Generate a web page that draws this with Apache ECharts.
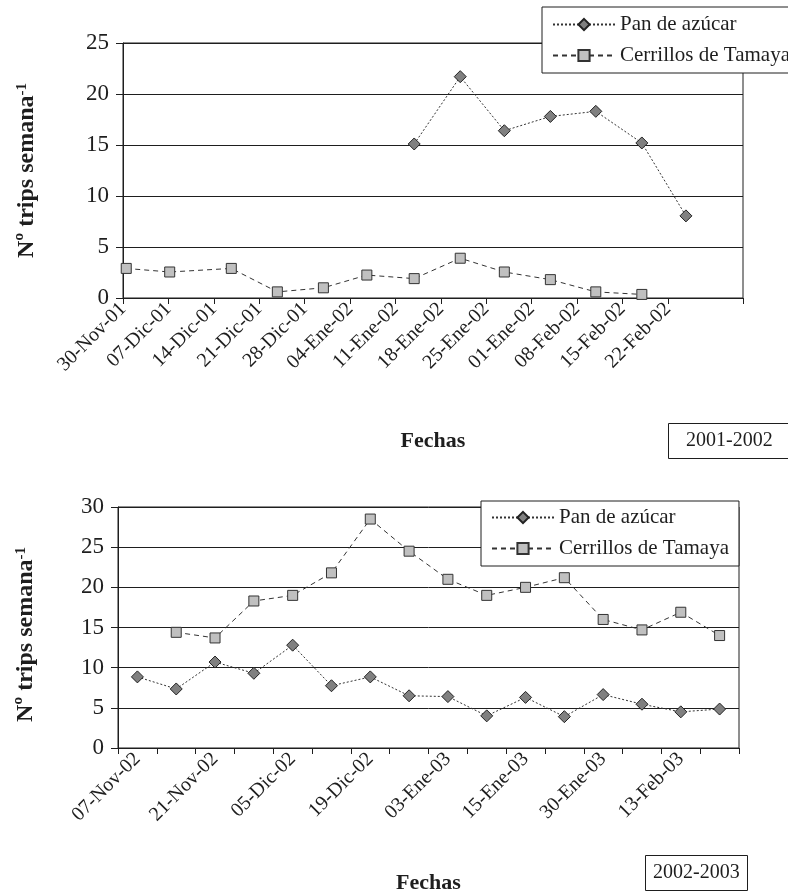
<!DOCTYPE html>
<html><head><meta charset="utf-8">
<script src="https://cdn.jsdelivr.net/npm/echarts@6/dist/echarts.min.js"></script>
<style>html,body{margin:0;padding:0;background:#fff}#c{width:788px;height:896px}</style>
</head><body><div id="c"></div>
<script>
// ---- 2001-2002 (x = days since 30-Nov-01) ----
const days0102 = [0.5, 7.2, 16.7, 23.8, 30.9, 37.6, 44.9, 52.0, 58.8, 65.9, 72.9, 80.0, 86.8];
const pan0102 = [null, null, null, null, null, null, 15.1, 21.7, 16.4, 17.8, 18.3, 15.2, 8.05];
const cer0102 = [2.9, 2.55, 2.9, 0.6, 1.0, 2.25, 1.9, 3.9, 2.55, 1.8, 0.6, 0.35, null];
const tickDays0102 = [0, 7, 14, 21, 28, 35, 42, 49, 56, 63, 70, 77, 84];
const tickLabels0102 = ['30-Nov-01','07-Dic-01','14-Dic-01','21-Dic-01','28-Dic-01','04-Ene-02','11-Ene-02','18-Ene-02','25-Ene-02','01-Ene-02','08-Feb-02','15-Feb-02','22-Feb-02'];
const axisEndDay0102 = 95.6;
const yTicks0102 = [0, 5, 10, 15, 20, 25];

// ---- 2002-2003 (category axis, every other label shown) ----
const cats0203 = ['07-Nov-02','14-Nov-02','21-Nov-02','28-Nov-02','05-Dic-02','12-Dic-02','19-Dic-02','26-Dic-02','03-Ene-03','09-Ene-03','15-Ene-03','22-Ene-03','30-Ene-03','06-Feb-03','13-Feb-03','20-Feb-03'];
const pan0203 = [8.85, 7.35, 10.7, 9.3, 12.8, 7.75, 8.85, 6.5, 6.4, 4.0, 6.3, 3.9, 6.65, 5.45, 4.5, 4.85];
const cer0203 = [null, 14.4, 13.7, 18.3, 19.0, 21.8, 28.5, 24.5, 21.0, 19.0, 20.0, 21.2, 16.0, 14.7, 16.9, 14.0];
const yTicks0203 = [0, 5, 10, 15, 20, 25, 30];

const seriesNames = ['Pan de azúcar', 'Cerrillos de Tamaya'];
const yearLabels = ['2001-2002', '2002-2003'];
const axisTitleY = 'Nº trips semana{sup|-1}';
const axisTitleX = 'Fechas';

const SERIF = 'Liberation Serif, Times New Roman, serif';
const INK = '#1e1e1e';

function pairs(xs, ys) {
  const out = [];
  xs.forEach((x, i) => { if (ys[i] !== null) out.push([x, ys[i]]); });
  return out;
}

const panStyle = {
  type: 'line', symbol: 'diamond', symbolSize: 12,
  itemStyle: { color: '#808080', borderColor: '#222', borderWidth: 1 },
  lineStyle: { color: '#333', width: 1, type: [2, 2] },
  emphasis: { disabled: true }, z: 3
};
const cerStyle = {
  type: 'line', symbol: 'rect', symbolSize: 10,
  itemStyle: { color: '#c0c0c0', borderColor: '#333', borderWidth: 1 },
  lineStyle: { color: '#333', width: 1, type: [5, 4] },
  emphasis: { disabled: true }, z: 3
};

function yAxis(gridIndex, maxV, gap, pad) {
  return {
    type: 'value', gridIndex, min: 0, max: maxV, interval: 5,
    name: axisTitleY, nameLocation: 'middle', nameGap: gap,
    nameTextStyle: {
      fontFamily: SERIF, fontSize: 24, fontWeight: 'bold', color: INK, padding: pad,
      rich: { sup: { fontFamily: SERIF, fontSize: 15, fontWeight: 'bold', color: INK, lineHeight: 15, verticalAlign: 'top' } }
    },
    axisLine: { show: true, lineStyle: { color: INK, width: 1 } },
    axisTick: { show: true, length: 7, lineStyle: { color: INK } },
    axisLabel: { fontFamily: SERIF, fontSize: 23, color: INK, margin: 14 },
    splitLine: { show: true, lineStyle: { color: INK, width: 1 } }
  };
}

const legendCommon = {
  orient: 'vertical', itemWidth: 62, itemHeight: 14, itemGap: 10,
  borderColor: INK, borderWidth: 1, backgroundColor: '#fff',
  textStyle: { fontFamily: SERIF, fontSize: 21, color: INK, lineHeight: 21 },
  selectedMode: false, data: seriesNames, z: 10
};

const chart = echarts.init(document.getElementById('c'), null, { renderer: 'canvas' });
chart.setOption({
  animation: false,
  backgroundColor: '#fff',
  title: [
    { text: yearLabels[0], left: 668, top: 423, borderColor: INK, borderWidth: 1, padding: [8, 22, 8, 18],
      textStyle: { fontFamily: SERIF, fontSize: 20, fontWeight: 'normal', color: INK } },
    { text: yearLabels[1], left: 645, top: 855, borderColor: INK, borderWidth: 1, padding: [8, 8, 8, 8],
      textStyle: { fontFamily: SERIF, fontSize: 20, fontWeight: 'normal', color: INK } }
  ],
  legend: [
    Object.assign({}, legendCommon, { left: 542, top: 7, padding: [7, 10, 7, 10] }),
    Object.assign({}, legendCommon, { left: 481, top: 501, padding: [6, 10, 7, 10] })
  ],
  grid: [
    { left: 123, top: 43, width: 620, height: 255, show: true, borderColor: INK, borderWidth: 1, backgroundColor: 'transparent' },
    { left: 118, top: 507, width: 621, height: 241, show: true, borderColor: INK, borderWidth: 1, backgroundColor: 'transparent' }
  ],
  xAxis: [
    {
      type: 'value', gridIndex: 0, min: 0, max: axisEndDay0102,
      name: axisTitleX, nameLocation: 'middle', nameGap: 132,
      nameTextStyle: { fontFamily: SERIF, fontSize: 22, fontWeight: 'bold', color: INK },
      axisLine: { show: true, onZero: false, lineStyle: { color: INK, width: 1 } },
      axisTick: { show: true, length: 6, lineStyle: { color: INK }, customValues: tickDays0102.concat([axisEndDay0102]) },
      axisLabel: { fontFamily: SERIF, fontSize: 20, color: INK, rotate: 45, margin: 8,
        customValues: tickDays0102,
        formatter: v => tickLabels0102[tickDays0102.indexOf(Math.round(v))] || '' },
      splitLine: { show: false }
    },
    {
      type: 'category', gridIndex: 1, data: cats0203, boundaryGap: true,
      name: axisTitleX, nameLocation: 'middle', nameGap: 124,
      nameTextStyle: { fontFamily: SERIF, fontSize: 22, fontWeight: 'bold', color: INK },
      axisLine: { show: true, onZero: false, lineStyle: { color: INK, width: 1 } },
      axisTick: { show: true, length: 6, interval: 0, lineStyle: { color: INK } },
      axisLabel: { fontFamily: SERIF, fontSize: 20, color: INK, rotate: 45, margin: 8, interval: 1 },
      splitLine: { show: false }
    }
  ],
  yAxis: [yAxis(0, yTicks0102[yTicks0102.length - 1], 84, [0, 0, 0, 0]), yAxis(1, yTicks0203[yTicks0203.length - 1], 80, [0, 14, 0, 0])],
  series: [
    Object.assign({}, panStyle, { name: seriesNames[0], xAxisIndex: 0, yAxisIndex: 0, data: pairs(days0102, pan0102) }),
    Object.assign({}, cerStyle, { name: seriesNames[1], xAxisIndex: 0, yAxisIndex: 0, data: pairs(days0102, cer0102) }),
    Object.assign({}, panStyle, { name: seriesNames[0], xAxisIndex: 1, yAxisIndex: 1, data: pan0203 }),
    Object.assign({}, cerStyle, { name: seriesNames[1], xAxisIndex: 1, yAxisIndex: 1, data: cer0203.map(v => v === null ? '-' : v) })
  ]
});
</script>
</body></html>
